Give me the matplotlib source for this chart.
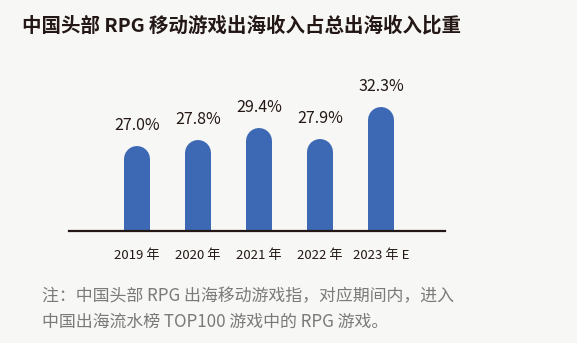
import matplotlib
matplotlib.use('Agg')
import matplotlib.pyplot as plt

plt.rcParams['font.family'] = ['Noto Sans CJK SC', 'DejaVu Sans']

years = ['2019 年', '2020 年', '2021 年', '2022 年', '2023 年 E']
share = [27.0, 27.8, 29.4, 27.9, 32.3]

title = '中国头部 RPG 移动游戏出海收入占总出海收入比重'
note = '注：中国头部 RPG 出海移动游戏指，对应期间内，进入\n中国出海流水榜 TOP100 游戏中的 RPG 游戏。'

bg = '#f7f7f5'
bar_color = '#3d69b4'
dark = '#231815'

W, H, dpi = 577, 343, 100
fig = plt.figure(figsize=(W / dpi, H / dpi), dpi=dpi, facecolor=bg)

# axes box in pixels: left, right, baseline, top
left_px, right_px, base_px, top_px = 69, 445, 230.7, 60
ax = fig.add_axes([left_px / W, (H - base_px) / H,
                   (right_px - left_px) / W, (base_px - top_px) / H])
ax.set_facecolor(bg)

y0 = 15.4
px_per_unit = 7.3
ax.set_ylim(y0, y0 + (base_px - top_px) / px_per_unit)
ax.set_xlim(-1.115, 5.05)

# rounded-top bars: thick lines with round caps, clipped at the baseline
bar_px = 26
lw = bar_px * 72 / dpi
r_data = (bar_px / 2) / px_per_unit
xs = list(range(len(share)))
for x, v in zip(xs, share):
    ax.plot([x, x], [y0 - 5, v - r_data], color=bar_color, lw=lw,
            solid_capstyle='round', zorder=2)
    ax.annotate(f'{v:.1f}%', (x, v), xytext=(0, 21 * 72 / dpi),
                textcoords='offset points', ha='center', va='center',
                fontsize=11.5, color=dark)

for s in ['top', 'right', 'left']:
    ax.spines[s].set_visible(False)
ax.spines['bottom'].set_color(dark)
ax.spines['bottom'].set_linewidth(1.6)
ax.spines['bottom'].set_zorder(3)
ax.set_yticks([])
ax.set_xticks(xs)
ax.set_xticklabels(years, fontsize=9.5, color=dark)
ax.tick_params(axis='x', length=0, pad=13)

fig.text(22 / W, 1 - 26 / H, title, fontsize=14, fontweight='bold',
         color=dark, ha='left', va='center')
fig.text(42 / W, 1 - 309 / H, note, fontsize=12.2, color='#7a7a7a',
         ha='left', va='center', linespacing=1.55)

fig.savefig('out.png', dpi=dpi, facecolor=bg)
